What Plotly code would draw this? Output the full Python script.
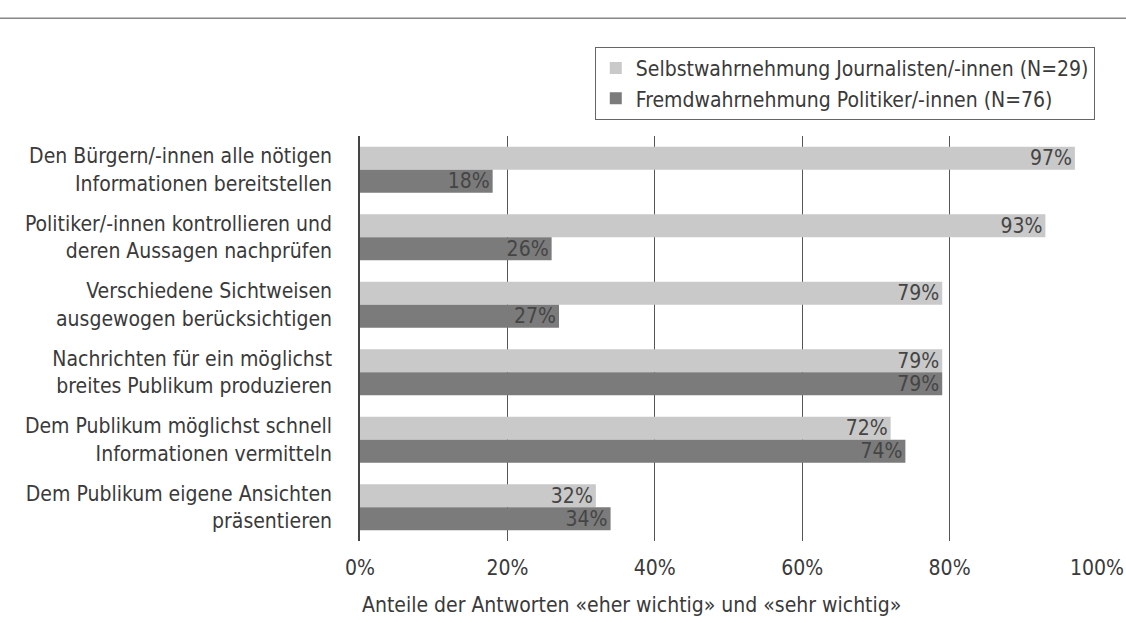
import plotly.graph_objects as go

categories = [
    "Den Bürgern/-innen alle nötigen<br>Informationen bereitstellen",
    "Politiker/-innen kontrollieren und<br>deren Aussagen nachprüfen",
    "Verschiedene Sichtweisen<br>ausgewogen berücksichtigen",
    "Nachrichten für ein möglichst<br>breites Publikum produzieren",
    "Dem Publikum möglichst schnell<br>Informationen vermitteln",
    "Dem Publikum eigene Ansichten<br>präsentieren",
]
selbst = [97, 93, 79, 79, 72, 32]
fremd = [18, 26, 27, 79, 74, 34]
series_names = [
    "Selbstwahrnehmung Journalisten/-innen (N=29)",
    "Fremdwahrnehmung Politiker/-innen (N=76)",
]
x_ticks = [0, 20, 40, 60, 80, 100]
x_title = "Anteile der Antworten «eher wichtig» und «sehr wichtig»"

FONT = "Liberation Sans Narrow, DejaVu Sans Condensed, Arial Narrow, sans-serif"
TXT = "#3a3a3a"
FS = 21

fig = go.Figure()
for vals, name, col in [(selbst, series_names[0], "#c9c9c9"), (fremd, series_names[1], "#7b7b7b")]:
    fig.add_trace(go.Bar(
        y=categories, x=vals, name=name, orientation="h",
        marker=dict(color=col, line=dict(width=0)),
        text=[f"{v}%" for v in vals], textposition="inside",
        insidetextanchor="end", textangle=0, constraintext="none",
        textfont=dict(family=FONT, size=FS, color="#454545"),
        cliponaxis=False,
    ))

fig.update_layout(
    width=1126, height=623,
    margin=dict(l=360, r=29, t=136, b=82),
    paper_bgcolor="white", plot_bgcolor="white",
    barmode="group", bargap=0.32, bargroupgap=0,
    font=dict(family=FONT, size=FS, color=TXT),
    showlegend=True,
    legend=dict(
        x=0.997, y=1.22, xanchor="right", yanchor="top",
        bordercolor="#666", borderwidth=1, bgcolor="white",
        font=dict(family=FONT, size=FS, color=TXT),
        traceorder="normal", itemsizing="constant",
        tracegroupgap=0,
    ),
)
fig.update_xaxes(
    range=[0, 100], tickvals=x_ticks, ticktext=[f"{t}%" for t in x_ticks],
    showgrid=True, gridcolor="#555", gridwidth=1,
    zeroline=False, showline=False, ticks="", ticklen=0,
    ticklabelstandoff=12, automargin=False,
    tickfont=dict(family=FONT, size=FS, color=TXT),
)
fig.update_yaxes(
    autorange="reversed", showgrid=False, zeroline=False,
    showline=True, linecolor="#444", linewidth=1.5,
    ticks="", ticklabelstandoff=22, automargin=False,
    tickfont=dict(family=FONT, size=FS, color=TXT),
)
fig.add_annotation(
    text=x_title, xref="paper", yref="paper", x=0, y=-0.158,
    xanchor="left", yanchor="middle", showarrow=False,
    font=dict(family=FONT, size=FS, color=TXT),
)
fig.add_shape(
    type="line", xref="paper", yref="paper", x0=-0.49, x1=1.04, y0=1.291, y1=1.291,
    line=dict(color="#888", width=1.5),
)
fig.write_html(
    "out.html",
    config={"displayModeBar": False},
    post_script="document.body.style.margin='0';document.body.style.overflow='hidden';",
)
